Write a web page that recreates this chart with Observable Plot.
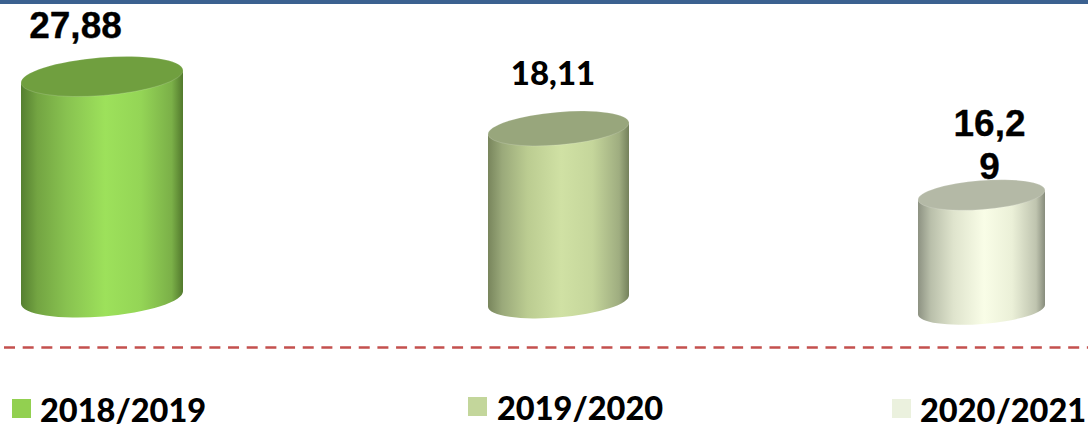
<!DOCTYPE html>
<html>
<head>
<meta charset="utf-8">
<script src="https://cdn.jsdelivr.net/npm/d3@7"></script>
<script src="https://cdn.jsdelivr.net/npm/@observablehq/plot@0.6"></script>
<style>
  html, body { margin: 0; padding: 0; background: #fff; overflow: hidden; }
  #wrap { position: relative; width: 1088px; height: 425px; overflow: hidden; }
  #topband { position: absolute; left: 0; top: 0; width: 1088px; height: 3.5px; background: #3b6190; z-index: 2; }
  #chart svg { display: block; }
  .key { position: absolute; font: 900 32.5px/30px Lato, sans-serif; color: #000; white-space: nowrap; }
</style>
</head>
<body>
<div id="wrap">
  <div id="topband"></div>
  <div id="chart"></div>
  <div id="legend"></div>
</div>
<script>
// Data
const seasons = ["2018/2019", "2019/2020", "2020/2021"];
const values = [27.88, 18.11, 16.29];
const valueLabels = ["27,88", "18,11", "16,2\n9"];

// Styles
const legendColors = ["#92d050", "#c3d69b", "#ebf1de"];
const capColors = ["#709f3f", "#98a67c", "#b4b9a6"];
const bodyStops = [
  ["#557f30", "#73a442", "#88c250", "#9de15b", "#94d556", "#7bb048", "#52792d"],
  ["#78855c", "#9aa97a", "#bbcc91", "#d0e1a4", "#c5d69b", "#9fad80", "#74815b"],
  ["#8d9282", "#b9bfaa", "#dfe4cd", "#f9fde7", "#ebf0d8", "#bfc4af", "#878c7c"]
];
const stopOffsets = [0, 0.1, 0.28, 0.52, 0.74, 0.93, 1];

// Layout options for the cylinders (per season): half width, ellipse minor radius,
// tilt rise at the rim, and how far the foot floats above the dashed zero line.
const halfWidths = [81, 70.5, 63.5];
const minorRadii = [19, 16.4, 14.5];
const rimRises = [6.5, 6, 5];
const footLifts = [49.5, 46, 37.5];

const rows = seasons.map((season, i) => ({i, season, value: values[i], label: valueLabels[i]}));

function gradients() {
  const svg = d3.create("svg:g");
  const defs = svg.append("defs");
  bodyStops.forEach((stops, i) => {
    const g = defs.append("linearGradient").attr("id", "cyl" + i).attr("x1", 0).attr("x2", 1).attr("y1", 0).attr("y2", 0);
    stops.forEach((c, k) => g.append("stop").attr("offset", stopOffsets[k]).attr("stop-color", c));
  });
  return svg.node();
}

function cylinders(index, scales, channels) {
  const g = d3.create("svg:g");
  for (const k of index) {
    const d = rows[k];
    const cx = channels.x[k], top = channels.y2[k];
    const foot = channels.y1[k] - footLifts[d.i];
    const w = halfWidths[d.i], rise = rimRises[d.i], ry = minorRadii[d.i];
    const rx = Math.hypot(w, rise);
    const deg = -Math.atan2(rise, w) * 180 / Math.PI;
    const xl = cx - w, xr = cx + w;
    g.append("path")
      .attr("fill", `url(#cyl${d.i})`)
      .attr("d", `M${xl},${top + rise}L${xl},${foot + rise}A${rx},${ry} ${deg} 0 0 ${xr},${foot - rise}L${xr},${top - rise}Z`);
    g.append("path")
      .attr("fill", capColors[d.i])
      .attr("stroke", "#ffffff").attr("stroke-opacity", 0.2).attr("stroke-width", 0.8)
      .attr("d", `M${xl},${top + rise}A${rx},${ry} ${deg} 1 1 ${xr},${top - rise}A${rx},${ry} ${deg} 1 1 ${xl},${top + rise}Z`);
  }
  return g.node();
}

const arial = "Liberation Sans, Arial, sans-serif";
const lato = "Lato, sans-serif";

const chart = Plot.plot({
  width: 1088,
  height: 360,
  margin: 0,
  marginLeft: 4,
  x: {type: "linear", domain: [0, 1, 2], range: [102, 558.5, 981.5], axis: null},
  y: {type: "linear", domain: [0, 16.29, 18.11, 27.88], range: [347, 195, 128.5, 76.5], axis: null},
  marks: [
    gradients,
    Plot.ruleX(rows, {x: "i", y1: () => 0, y2: "value", render: cylinders}),
    Plot.ruleY([0], {stroke: "#c4504e", strokeWidth: 2.6, strokeDasharray: "11,7.67"}),
    Plot.text(rows.filter(d => d.i === 0), {x: "i", y: "value", text: "label", dx: -27, dy: -51, fontFamily: arial, fontWeight: 700, fontSize: 37, fill: "#000", stroke: "#000", strokeWidth: 0.3}),
    Plot.text(rows.filter(d => d.i === 1), {x: "i", y: "value", text: "label", dx: -6, dy: -55, fontFamily: lato, fontWeight: 900, fontSize: 33, fill: "#000"}),
    Plot.text(rows.filter(d => d.i === 2), {x: "i", y: "value", text: "label", dx: 7.5, dy: -52, lineHeight: 1.17, fontFamily: arial, fontWeight: 700, fontSize: 37, fill: "#000", stroke: "#000", strokeWidth: 0.3})
  ]
});
document.getElementById("chart").appendChild(chart);

// Legend below the SVG
const keyPlaces = [
  {swatchLeft: 12, swatchTop: 399, textLeft: 40, textTop: 395},
  {swatchLeft: 468, swatchTop: 397, textLeft: 497, textTop: 393},
  {swatchLeft: 892, swatchTop: 399, textLeft: 920, textTop: 395}
];
const legend = document.getElementById("legend");
seasons.forEach((season, i) => {
  const p = keyPlaces[i];
  const s = document.createElement("i");
  s.style.cssText = `position:absolute;left:${p.swatchLeft}px;top:${p.swatchTop}px;width:19px;height:19px;background:${legendColors[i]}`;
  legend.appendChild(s);
  const t = document.createElement("div");
  t.className = "key";
  t.style.cssText = `left:${p.textLeft}px;top:${p.textTop}px`;
  t.textContent = season;
  legend.appendChild(t);
});
</script>
</body>
</html>
